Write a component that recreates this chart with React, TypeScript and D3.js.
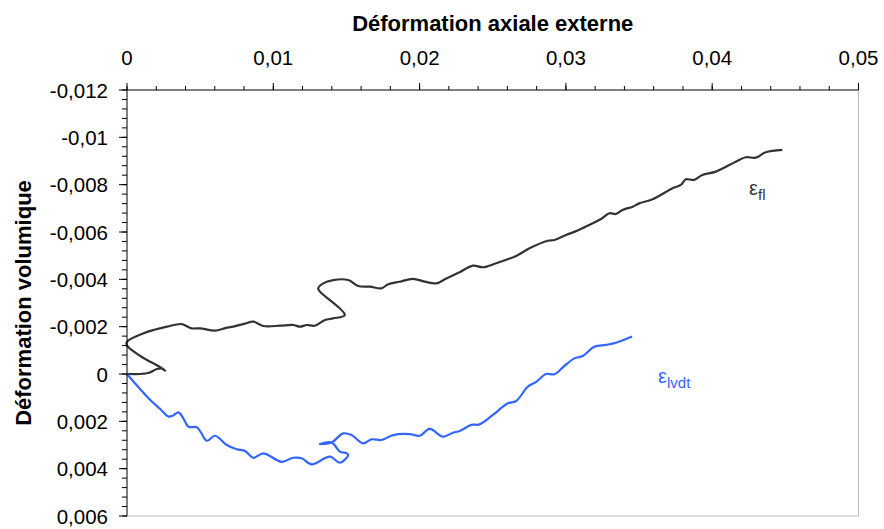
import { useEffect, useRef } from 'react';
import * as d3 from 'd3';

// x = déformation axiale externe, y = déformation volumique
const flStrain: [number, number][] = [
  [0, 0], [0.00091, 0], [0.00145, -0.00004], [0.00205, -0.00021], [0.00241, -0.00023],
  [0.00261, -0.00014], [0.00214, -0.00034], [0.00159, -0.00052], [0.00091, -0.00076],
  [0, -0.0012], [0, -0.00136], [0.00113, -0.00172], [0.00193, -0.00188], [0.00273, -0.002],
  [0.00329, -0.00208], [0.00375, -0.00211], [0.00443, -0.00193], [0.005, -0.00193],
  [0.00602, -0.00183], [0.00671, -0.00194], [0.00727, -0.002], [0.00807, -0.00213],
  [0.00864, -0.00221], [0.00932, -0.00203], [0.01046, -0.00204], [0.01136, -0.00207],
  [0.01182, -0.002], [0.01228, -0.00207], [0.01284, -0.00204], [0.01353, -0.00228],
  [0.01409, -0.00235], [0.01489, -0.00249], [0.01319, -0.00348], [0.01307, -0.00362],
  [0.01341, -0.00383], [0.01409, -0.00397], [0.01512, -0.00397], [0.0158, -0.00372],
  [0.0166, -0.00369], [0.01739, -0.00362], [0.01785, -0.00379], [0.01864, -0.0039],
  [0.01955, -0.00402], [0.02035, -0.0039], [0.02115, -0.00383], [0.02183, -0.00404],
  [0.02274, -0.0043], [0.02364, -0.00458], [0.02432, -0.00451], [0.02524, -0.00468],
  [0.0266, -0.00499], [0.02751, -0.00531], [0.02876, -0.00563], [0.02922, -0.00566],
  [0.03001, -0.00587], [0.0308, -0.00606], [0.0316, -0.0063], [0.0324, -0.00655],
  [0.03297, -0.00679], [0.03342, -0.00676], [0.03387, -0.00693], [0.03456, -0.00707],
  [0.03501, -0.00721], [0.03592, -0.00738], [0.03729, -0.00785], [0.03786, -0.00799],
  [0.0382, -0.00823], [0.03877, -0.0082], [0.03933, -0.00841], [0.04025, -0.00855],
  [0.04161, -0.00897], [0.04229, -0.00916], [0.04297, -0.00914], [0.04366, -0.00937],
  [0.04479, -0.00947],
];

const lvdtStrain: [number, number][] = [
  [0, 0], [0.00077, 0.00055], [0.00159, 0.0011], [0.00227, 0.00148], [0.00284, 0.0018],
  [0.00316, 0.00175], [0.00352, 0.00162], [0.00384, 0.00186], [0.0042, 0.00223],
  [0.00477, 0.00225], [0.00507, 0.00249], [0.00546, 0.00282], [0.00602, 0.00261],
  [0.00682, 0.003], [0.0075, 0.00318], [0.00807, 0.00325], [0.00864, 0.00354],
  [0.00932, 0.00335], [0.01057, 0.00371], [0.01136, 0.00354], [0.01194, 0.00356],
  [0.01262, 0.00382], [0.01387, 0.00349], [0.01455, 0.00375], [0.01512, 0.00342],
  [0.01501, 0.00335], [0.01455, 0.00328], [0.01398, 0.00289], [0.01319, 0.00296],
  [0.01398, 0.00289], [0.01478, 0.00251], [0.01535, 0.00258], [0.01614, 0.00293],
  [0.01671, 0.00276], [0.01739, 0.00279], [0.01819, 0.00258], [0.01933, 0.00254],
  [0.02001, 0.00261], [0.02069, 0.00232], [0.0216, 0.00265], [0.02228, 0.00248],
  [0.02274, 0.00241], [0.02353, 0.00215], [0.0241, 0.00213], [0.02501, 0.00173],
  [0.02603, 0.00124], [0.0266, 0.00114], [0.02739, 0.00054], [0.02797, 0.00033],
  [0.02865, 0], [0.02922, 0.00001], [0.0299, -0.00034], [0.03058, -0.00066],
  [0.03115, -0.00076], [0.03194, -0.00115], [0.03274, -0.00123], [0.03342, -0.00132],
  [0.03452, -0.00158],
];

const xTicks = [0, 0.01, 0.02, 0.03, 0.04, 0.05];
const yTicks = [-0.012, -0.01, -0.008, -0.006, -0.004, -0.002, 0, 0.002, 0.004, 0.006];

const series = [
  { name: 'fl', data: flStrain, color: '#333333', label: [0.04252, -0.00756] },
  { name: 'lvdt', data: lvdtStrain, color: '#3366ff', label: [0.0363, 0.00038] },
];

const FONT = "Arial, 'Liberation Sans', sans-serif";

const fmt = (v: number) => String(+v.toFixed(4)).replace('.', ',');

export default function App() {
  const svgRef = useRef<SVGSVGElement>(null);
  const width = 884;
  const height = 529;

  useEffect(() => {
    if (!svgRef.current) return;
    const margin = { top: 90, right: 25.5, bottom: 13, left: 127 };
    const innerWidth = width - margin.left - margin.right;
    const innerHeight = height - margin.top - margin.bottom;

    const svg = d3.select(svgRef.current);
    svg.selectAll('*').remove();

    const g = svg.append('g')
      .attr('transform', `translate(${margin.left},${margin.top})`);

    const xScale = d3.scaleLinear().domain([0, 0.05]).range([0, innerWidth]);
    const yScale = d3.scaleLinear().domain([-0.012, 0.006]).range([0, innerHeight]);

    // grey frame on right and bottom
    g.append('line')
      .attr('x1', innerWidth).attr('x2', innerWidth)
      .attr('y1', 0).attr('y2', innerHeight)
      .attr('stroke', '#bdbdbd');
    g.append('line')
      .attr('x1', 0).attr('x2', innerWidth)
      .attr('y1', innerHeight).attr('y2', innerHeight)
      .attr('stroke', '#bdbdbd');

    // curves
    const line = d3.line<[number, number]>()
      .x(d => xScale(d[0]))
      .y(d => yScale(d[1]))
      .curve(d3.curveCatmullRom.alpha(0.5));

    series.forEach(s => {
      g.append('path')
        .datum(s.data)
        .attr('fill', 'none')
        .attr('stroke', s.color)
        .attr('stroke-width', 2.2)
        .attr('stroke-linejoin', 'round')
        .attr('d', line);

      const t = g.append('text')
        .attr('x', xScale(s.label[0]))
        .attr('y', yScale(s.label[1]))
        .attr('fill', s.color)
        .attr('font-family', FONT)
        .attr('font-size', 20)
        .text('ε');
      t.append('tspan')
        .attr('dy', 5)
        .attr('font-size', 15)
        .text(s.name);
    });

    // top x axis
    const xMinor = d3.range(0, 0.05 + 1e-9, 0.002);
    g.append('line')
      .attr('x1', 0).attr('x2', innerWidth)
      .attr('y1', 0).attr('y2', 0)
      .attr('stroke', '#000');
    g.selectAll('.xminor')
      .data(xMinor)
      .join('line')
      .attr('x1', d => xScale(d)).attr('x2', d => xScale(d))
      .attr('y1', -4).attr('y2', 0)
      .attr('stroke', '#000');
    g.selectAll('.xmajor')
      .data(xTicks)
      .join('line')
      .attr('x1', d => xScale(d)).attr('x2', d => xScale(d))
      .attr('y1', -7).attr('y2', 0)
      .attr('stroke', '#000');
    g.selectAll('.xlabel')
      .data(xTicks)
      .join('text')
      .attr('x', d => xScale(d))
      .attr('y', -25)
      .attr('text-anchor', 'middle')
      .attr('font-family', FONT)
      .attr('font-size', 20.5)
      .text(d => fmt(d));

    // left y axis
    const yMinor = d3.range(-0.012, 0.006 + 1e-9, 0.0004);
    g.append('line')
      .attr('x1', 0).attr('x2', 0)
      .attr('y1', 0).attr('y2', innerHeight)
      .attr('stroke', '#000');
    g.selectAll('.yminor')
      .data(yMinor)
      .join('line')
      .attr('x1', -5).attr('x2', 0)
      .attr('y1', d => yScale(d)).attr('y2', d => yScale(d))
      .attr('stroke', '#000');
    g.selectAll('.ymajor')
      .data(yTicks)
      .join('line')
      .attr('x1', -8).attr('x2', 0)
      .attr('y1', d => yScale(d)).attr('y2', d => yScale(d))
      .attr('stroke', '#000');
    g.selectAll('.ylabel')
      .data(yTicks)
      .join('text')
      .attr('x', -19)
      .attr('y', d => yScale(d) + 7.5)
      .attr('text-anchor', 'end')
      .attr('font-family', FONT)
      .attr('font-size', 20.5)
      .text(d => fmt(d));

    // axis titles
    svg.append('text')
      .attr('x', margin.left + innerWidth / 2)
      .attr('y', 31)
      .attr('text-anchor', 'middle')
      .attr('font-family', FONT)
      .attr('font-weight', 'bold')
      .attr('font-size', 22)
      .text('Déformation axiale externe');

    svg.append('text')
      .attr('transform', `translate(31,${margin.top + innerHeight / 2}) rotate(-90)`)
      .attr('text-anchor', 'middle')
      .attr('font-family', FONT)
      .attr('font-weight', 'bold')
      .attr('font-size', 22)
      .text('Déformation volumique');
  }, []);

  return (
    <svg
      ref={svgRef}
      width={width}
      height={height}
      style={{ position: 'absolute', left: 0, top: 0, background: '#fff' }}
    />
  );
}
